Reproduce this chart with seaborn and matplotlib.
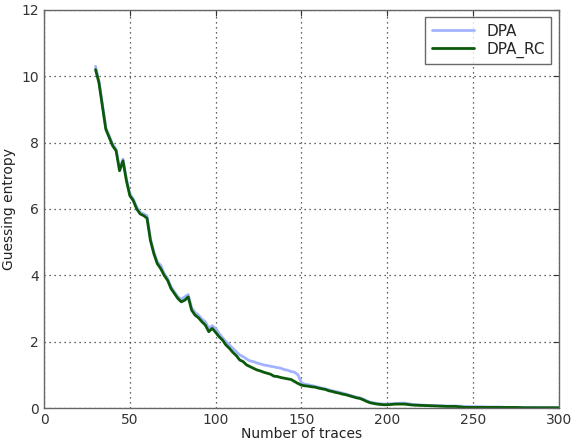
import matplotlib
matplotlib.use("Agg")
import matplotlib.pyplot as plt
import seaborn as sns
import pandas as pd

traces = [30, 32, 34, 36, 38, 40, 42, 44, 46, 48, 50, 52, 54, 56, 58, 60, 62, 64, 66, 68,
          70, 72, 74, 76, 78, 80, 82, 84, 86, 88, 90, 92, 94, 96, 98, 100, 102, 104, 106, 108,
          110, 112, 114, 116, 118, 120, 122, 124, 126, 128, 130, 132, 134, 136, 138, 140, 142, 144, 146, 148,
          150, 152, 154, 156, 158, 160, 162, 164, 166, 168, 170, 172, 174, 176, 178, 180, 182, 184, 186, 188,
          190, 192, 194, 196, 198, 200, 205, 210, 215, 220, 225, 230, 235, 240, 245, 250, 255, 260, 265, 270,
          275, 280, 285, 290, 295, 300]

dpa_rc = [10.2, 9.8, 9.1, 8.4, 8.15, 7.9, 7.75, 7.15, 7.45, 6.85, 6.4, 6.25, 6.0, 5.85, 5.8, 5.72, 5.05, 4.65, 4.35, 4.2,
          4.0, 3.85, 3.6, 3.45, 3.3, 3.2, 3.25, 3.35, 2.95, 2.8, 2.72, 2.6, 2.5, 2.3, 2.4, 2.28, 2.15, 2.05, 1.9, 1.8,
          1.68, 1.58, 1.45, 1.4, 1.3, 1.25, 1.2, 1.15, 1.12, 1.08, 1.05, 1.02, 0.96, 0.95, 0.92, 0.9, 0.88, 0.86, 0.8, 0.74,
          0.69, 0.67, 0.66, 0.64, 0.63, 0.6, 0.58, 0.56, 0.52, 0.5, 0.47, 0.45, 0.42, 0.4, 0.37, 0.34, 0.31, 0.29, 0.25, 0.2,
          0.16, 0.14, 0.12, 0.11, 0.1, 0.1, 0.12, 0.12, 0.09, 0.08, 0.07, 0.06, 0.05, 0.05, 0.02, 0.02, 0.02, 0.02, 0.02, 0.02,
          0.02, 0.01, 0.01, 0.01, 0.01, 0.01]

dpa = [10.3, 9.85, 9.15, 8.45, 8.2, 7.95, 7.8, 7.2, 7.5, 6.9, 6.45, 6.3, 6.05, 5.9, 5.85, 5.8, 5.1, 4.7, 4.4, 4.3,
       4.05, 3.9, 3.65, 3.5, 3.35, 3.28, 3.35, 3.42, 3.02, 2.88, 2.8, 2.68, 2.6, 2.4, 2.48, 2.4, 2.25, 2.12, 2.0, 1.9,
       1.8, 1.7, 1.6, 1.55, 1.48, 1.42, 1.4, 1.36, 1.33, 1.3, 1.28, 1.26, 1.24, 1.22, 1.2, 1.16, 1.14, 1.1, 1.08, 1.0,
       0.76, 0.72, 0.7, 0.68, 0.65, 0.63, 0.6, 0.58, 0.55, 0.52, 0.5, 0.47, 0.45, 0.42, 0.39, 0.36, 0.33, 0.31, 0.27, 0.22,
       0.18, 0.16, 0.14, 0.13, 0.12, 0.12, 0.14, 0.15, 0.11, 0.09, 0.08, 0.07, 0.06, 0.06, 0.05, 0.04, 0.04, 0.03, 0.03, 0.02,
       0.02, 0.02, 0.02, 0.01, 0.01, 0.01]

series_names = ["DPA", "DPA_RC"]

df = pd.DataFrame({
    "traces": traces + traces,
    "ge": dpa + dpa_rc,
    "method": [series_names[0]] * len(traces) + [series_names[1]] * len(traces),
})

sns.set_style("white")
plt.rcParams["font.family"] = ["DejaVu Sans"]

fig = plt.figure(figsize=(5.72, 4.45), dpi=100)
ax = fig.add_axes([0.077, 0.083, 0.900, 0.895])

sns.lineplot(data=df, x="traces", y="ge", hue="method",
             palette={"DPA": "#a3b3ff", "DPA_RC": "#0b5a0b"},
             linewidth=2.0, ax=ax)

ax.set_xlim(0, 300)
ax.set_ylim(0, 12)
ax.set_xticks([0, 50, 100, 150, 200, 250, 300])
ax.set_yticks([0, 2, 4, 6, 8, 10, 12])
ax.grid(True, color="#333333", linestyle=(0, (1, 3)), linewidth=0.9)
ax.set_xlabel("Number of traces", fontsize=10, color="#222222", labelpad=0)
ax.set_ylabel("Guessing entropy", fontsize=10, color="#222222")
ax.tick_params(direction="in", top=True, right=True, length=4, labelsize=10,
               colors="#333333")
for s in ax.spines.values():
    s.set_color("#666666")
    s.set_linewidth(1.0)

leg = ax.legend(loc="upper right", fontsize=11, frameon=True, fancybox=False,
                handlelength=2.8, borderpad=0.4, labelspacing=0.2)
leg.get_frame().set_edgecolor("#444444")
leg.get_frame().set_linewidth(1.0)
leg.set_title(None)

fig.savefig("out.png", dpi=100)
